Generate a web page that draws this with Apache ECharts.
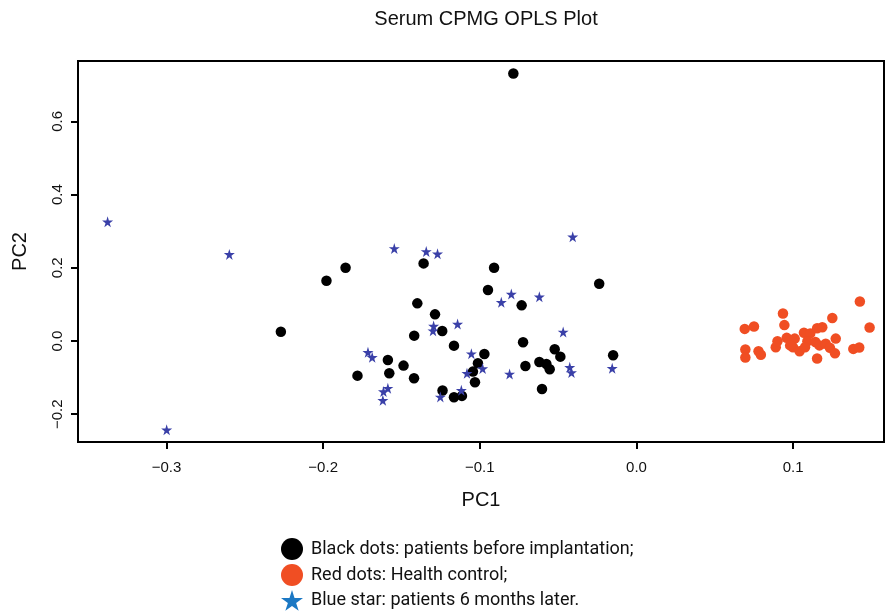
<!DOCTYPE html>
<html>
<head>
<meta charset="utf-8">
<script src="https://cdn.jsdelivr.net/npm/echarts@6/dist/echarts.min.js"></script>
<style>
  html, body { margin: 0; padding: 0; background: #fff; }
  #main { width: 886px; height: 612px; }
</style>
</head>
<body>
<div id="main"></div>
<script>
// PC1 / PC2 scores
var blackDots = [
    [-0.0786, 0.731],
    [-0.2270, 0.0254], [-0.1979, 0.1645], [-0.1857, 0.200], [-0.1781, -0.0947],
    [-0.1359, 0.212], [-0.1399, 0.1028], [-0.1286, 0.0728], [-0.124, 0.0273], [-0.1419, 0.0146],
    [-0.1165, -0.0127], [-0.1587, -0.0518], [-0.1487, -0.0673], [-0.1578, -0.0882], [-0.142, -0.1019],
    [-0.1238, -0.1355], [-0.1165, -0.1537], [-0.1114, -0.150],
    [-0.0909, 0.200], [-0.0948, 0.1392], [-0.0733, 0.0974], [-0.0238, 0.1563], [-0.0724, -0.0036],
    [-0.0971, -0.0355], [-0.1012, -0.0609], [-0.1044, -0.0837], [-0.1031, -0.1128], [-0.0709, -0.0682],
    [-0.062, -0.0573], [-0.0575, -0.0628], [-0.0554, -0.0773], [-0.0522, -0.0227], [-0.0486, -0.0428],
    [-0.0603, -0.131], [-0.0149, -0.039]
];

var redDots = [
    [0.1426, 0.108], [0.1488, 0.0368], [0.125, 0.063], [0.0935, 0.0753], [0.0944, 0.0434],
    [0.0691, 0.033], [0.075, 0.0396], [0.0695, -0.0235], [0.0695, -0.045], [0.0779, -0.0281],
    [0.0794, -0.0377], [0.0889, -0.017], [0.090, -0.0008], [0.0959, 0.0085], [0.101, 0.0065],
    [0.0999, -0.017], [0.1041, -0.0281], [0.1069, 0.0226], [0.1109, 0.0207], [0.1153, 0.035],
    [0.1186, 0.0377], [0.1091, -0.0008], [0.1142, -0.0027], [0.1168, -0.012], [0.1208, -0.0074],
    [0.1235, -0.0188], [0.1272, 0.0065], [0.1267, -0.0338], [0.1153, -0.0478], [0.1076, -0.017],
    [0.1384, -0.0216], [0.1422, -0.0177], [0.0981, -0.012]
];

var blueStars = [
    [-0.3376, 0.3255], [-0.2599, 0.2366], [-0.2999, -0.2428],
    [-0.1546, 0.2529], [-0.1342, 0.2447], [-0.127, 0.2383], [-0.1295, 0.0409], [-0.1299, 0.0282],
    [-0.1142, 0.0464], [-0.1714, -0.0309], [-0.1687, -0.0446], [-0.1587, -0.129], [-0.1615, -0.1383],
    [-0.1619, -0.1619], [-0.1252, -0.1528],
    [-0.0407, 0.2846], [-0.0863, 0.1056], [-0.0799, 0.1282], [-0.062, 0.1209], [-0.1054, -0.0346],
    [-0.0468, 0.0246], [-0.0982, -0.0755], [-0.1082, -0.0882], [-0.081, -0.090], [-0.0426, -0.0719],
    [-0.0415, -0.0864], [-0.0155, -0.0746], [-0.1118, -0.1346]
];

var xTicks = [-0.3, -0.2, -0.1, 0.0, 0.1];
var yTicks = [-0.2, 0.0, 0.2, 0.4, 0.6];
var seriesNames = [
    'Black dots: patients before implantation;',
    'Red dots: Health control;',
    'Blue star: patients 6 months later.'
];

var starPath = 'path://M50,0 L61,35 L98,35 L68,57 L79,91 L50,70 L21,91 L32,57 L2,35 L39,35 Z';
var plotFont = '"Liberation Sans", Arial, sans-serif';

function tickText(v) {
    var s = Math.abs(v).toFixed(1);
    return v < -1e-9 ? '\u2212' + s : s;
}

var myChart = echarts.init(document.getElementById('main'));

var option = {
    animation: false,
    backgroundColor: '#fff',
    title: {
        text: 'Serum CPMG OPLS Plot',
        left: 481,
        textAlign: 'center',
        top: 4,
        textStyle: { fontFamily: plotFont, fontWeight: 'normal', fontSize: 20, color: '#111' }
    },
    legend: {
        orient: 'vertical',
        left: 281,
        top: 538,
        height: 80,
        padding: 0,
        itemGap: 4,
        itemWidth: 22,
        itemHeight: 22,
        textStyle: { fontFamily: 'Roboto, sans-serif', fontSize: 18, color: '#111', padding: [0, 0, 0, 3] },
        data: [
            { name: seriesNames[0], icon: 'circle', itemStyle: { color: '#000' } },
            { name: seriesNames[1], icon: 'circle', itemStyle: { color: '#f04e23' } },
            { name: seriesNames[2], icon: starPath, itemStyle: { color: '#1b78c4' } }
        ]
    },
    grid: {
        left: 78, right: 2, top: 61, bottom: 170,
        show: true, borderColor: '#000', borderWidth: 2
    },
    xAxis: {
        type: 'value',
        min: -0.3565,
        max: 0.158,
        name: 'PC1',
        nameLocation: 'middle',
        nameGap: 48,
        nameTextStyle: { fontFamily: plotFont, fontSize: 20, color: '#111' },
        axisLine: { show: true, onZero: false, lineStyle: { color: '#000', width: 2 } },
        axisTick: { show: true, length: 7, customValues: xTicks, lineStyle: { color: '#000', width: 2 } },
        axisLabel: {
            customValues: xTicks, margin: 18, formatter: tickText,
            fontFamily: plotFont, fontSize: 15, color: '#111'
        },
        splitLine: { show: false }
    },
    yAxis: {
        type: 'value',
        min: -0.276,
        max: 0.765,
        name: 'PC2',
        nameLocation: 'middle',
        nameGap: 48,
        nameRotate: 90,
        nameTextStyle: { fontFamily: plotFont, fontSize: 20, color: '#111' },
        axisLine: { show: true, onZero: false, lineStyle: { color: '#000', width: 2 } },
        axisTick: { show: true, length: 7, customValues: yTicks, lineStyle: { color: '#000', width: 2 } },
        axisLabel: {
            customValues: yTicks, rotate: 90, margin: 13, formatter: tickText,
            fontFamily: plotFont, fontSize: 15, color: '#111'
        },
        splitLine: { show: false }
    },
    series: [
        {
            name: seriesNames[0],
            type: 'scatter',
            symbol: 'circle',
            symbolSize: 10.5,
            itemStyle: { color: '#000', opacity: 1 },
            data: blackDots,
            z: 3
        },
        {
            name: seriesNames[1],
            type: 'scatter',
            symbol: 'circle',
            symbolSize: 10.5,
            itemStyle: { color: '#f04e23', opacity: 1 },
            data: redDots,
            z: 2
        },
        {
            name: seriesNames[2],
            type: 'scatter',
            symbol: starPath,
            symbolSize: 11,
            itemStyle: { color: '#3a40a8', opacity: 1 },
            data: blueStars,
            z: 4
        }
    ]
};

myChart.setOption(option);
</script>
</body>
</html>
